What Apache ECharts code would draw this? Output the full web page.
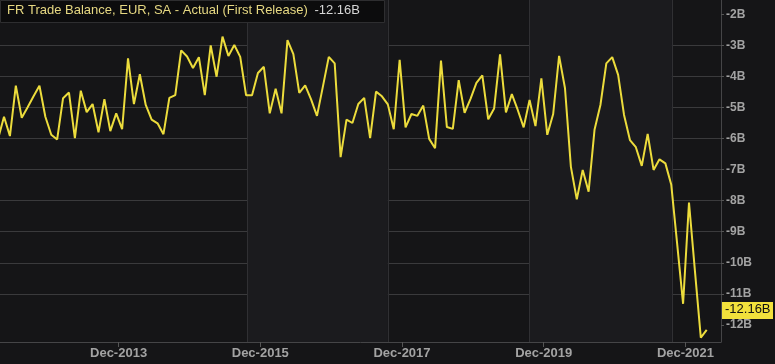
<!DOCTYPE html>
<html>
<head>
<meta charset="utf-8">
<script src="https://cdn.jsdelivr.net/npm/echarts@6/dist/echarts.min.js"></script>
<style>
  html, body { margin: 0; padding: 0; background: #151517; }
  #chart { width: 775px; height: 364px; }
</style>
</head>
<body>
<div id="chart"></div>
<script>
// ---- data ----
const seriesName = 'FR Trade Balance, EUR, SA - Actual (First Release)';
const lastValueText = '-12.16B';
const startYear = 2012, startMonth = 4; // first monthly observation: Apr 2012
const values = [
  -6.00, -5.30, -5.92, -4.30, -5.33, -4.99, -4.64, -4.30, -5.30, -5.88,
  -6.03, -4.70, -4.52, -5.99, -4.46, -5.15, -4.89, -5.80, -4.73, -5.76,
  -5.19, -5.70, -3.42, -4.89, -3.93, -4.92, -5.39, -5.51, -5.86, -4.69,
  -4.60, -3.16, -3.36, -3.73, -3.38, -4.60, -3.00, -4.01, -2.72, -3.34,
  -2.99, -3.37, -4.61, -4.61, -3.89, -3.69, -5.19, -4.40, -5.19, -2.83,
  -3.28, -4.53, -4.29, -4.74, -5.27, -4.33, -3.37, -3.58, -6.60, -5.39,
  -5.50, -4.89, -4.69, -5.99, -4.49, -4.64, -4.90, -5.70, -3.47, -5.64,
  -5.21, -5.27, -4.94, -6.01, -6.31, -3.49, -5.63, -5.69, -4.12, -5.17,
  -4.72, -4.21, -3.97, -5.38, -5.03, -3.29, -5.16, -4.57, -5.08, -5.64,
  -4.76, -5.60, -4.06, -5.88, -5.21, -3.34, -4.38, -6.91, -7.96, -7.01,
  -7.71, -5.72, -4.92, -3.58, -3.38, -3.95, -5.24, -6.05, -6.28, -6.88,
  -5.85, -7.01, -6.67, -6.80, -7.49, -9.40, -11.32, -8.06, -10.25, -12.41,
  -12.16
];
const xTickLabels = ['Dec-2013', 'Dec-2015', 'Dec-2017', 'Dec-2019', 'Dec-2021'];
const yTickValues = [-12, -11, -10, -9, -8, -7, -6, -5, -4, -3, -2];

// ---- build ----
const monthNames = ['Jan','Feb','Mar','Apr','May','Jun','Jul','Aug','Sep','Oct','Nov','Dec'];
const months = values.map((_, i) => {
  const t = (startMonth - 1) + i;
  return monthNames[t % 12] + '-' + (startYear + Math.floor(t / 12));
});
const idxOf = lbl => months.indexOf(lbl);
const tickPos = xTickLabels.map(l => idxOf(l) + 0.4);
const data = values.map((v, i) => [i, v]);

// vertical separators (shaded background blocks)
const sep = [idxOf('Oct-2015') + 0.15, idxOf('Oct-2017'), idxOf('Oct-2019') - 0.1, idxOf('Oct-2021') + 0.1];

const chart = echarts.init(document.getElementById('chart'), null, { renderer: 'canvas' });
const axisGrey = '#a3a3a3';
const option = {
  backgroundColor: '#151517',
  animation: false,
  grid: { left: 0, right: 54, top: 0, bottom: 22, containLabel: false },
  xAxis: {
    type: 'value',
    min: 0.32,
    max: 122.42,
    axisLine: { show: true, lineStyle: { color: '#454547', width: 1 } },
    axisTick: { show: true, customValues: tickPos, length: 5, lineStyle: { color: '#555' } },
    axisLabel: {
      customValues: tickPos,
      color: axisGrey, fontSize: 13, fontWeight: 'bold',
      fontFamily: 'Liberation Sans, Arial, sans-serif', margin: 5,
      formatter: v => {
        const k = tickPos.findIndex(p => Math.abs(p - v) < 0.01);
        return k >= 0 ? xTickLabels[k] : '';
      }
    },
    splitLine: { show: false }
  },
  yAxis: {
    type: 'value',
    position: 'right',
    min: -12.55,
    max: -1.54,
    splitNumber: 11,
    axisLine: { show: true, lineStyle: { color: '#454547', width: 1 } },
    axisTick: { show: true, customValues: yTickValues, length: 3, lineStyle: { color: '#555' } },
    axisLabel: {
      customValues: yTickValues,
      color: axisGrey, fontSize: 12, fontWeight: 'bold',
      fontFamily: 'Liberation Sans, Arial, sans-serif', margin: 5,
      formatter: v => (Math.abs(v - Math.round(v)) < 1e-6 ? Math.round(v) + 'B' : '')
    },
    splitLine: { show: true, showMinLine: false, showMaxLine: false, lineStyle: { color: '#3a3a3c', width: 1 } }
  },
  series: [{
    name: seriesName,
    type: 'line',
    data: data,
    showSymbol: false,
    symbol: 'none',
    clip: true,
    lineStyle: { color: '#ecdc3c', width: 2 },
    z: 5,
    markArea: {
      silent: true,
      itemStyle: { color: '#1b1b1e' },
      data: [
        [{ xAxis: sep[0] }, { xAxis: sep[1] }],
        [{ xAxis: sep[2] }, { xAxis: sep[3] }]
      ]
    },
    markLine: {
      silent: true,
      symbol: 'none',
      label: { show: false },
      lineStyle: { color: '#303033', width: 1, type: 'solid' },
      data: sep.map(s => ({ xAxis: s }))
    }
  }],
  graphic: [
    {
      type: 'rect', left: 0, top: 0, z: 100,
      shape: { width: 384, height: 22 },
      style: { fill: '#0c0c0d', stroke: '#2e2e30', lineWidth: 1 }
    },
    {
      type: 'text', left: 7, top: 4, z: 101,
      style: {
        text: '{a|' + seriesName + '}  {b|' + lastValueText + '}',
        rich: {
          a: { fill: '#e6d882', fontSize: 13, fontFamily: 'Liberation Sans, Arial, sans-serif' },
          b: { fill: '#d6d6d6', fontSize: 13, fontFamily: 'Liberation Sans, Arial, sans-serif' }
        }
      }
    },
    {
      type: 'rect', left: 722, top: 302, z: 100,
      shape: { width: 51, height: 17 },
      style: { fill: '#f2e13c' }
    },
    {
      type: 'text', left: 725, top: 303, z: 101,
      style: { text: lastValueText, fill: '#111', fontSize: 13, fontFamily: 'Liberation Sans, Arial, sans-serif' }
    }
  ]
};
chart.setOption(option);
</script>
</body>
</html>
